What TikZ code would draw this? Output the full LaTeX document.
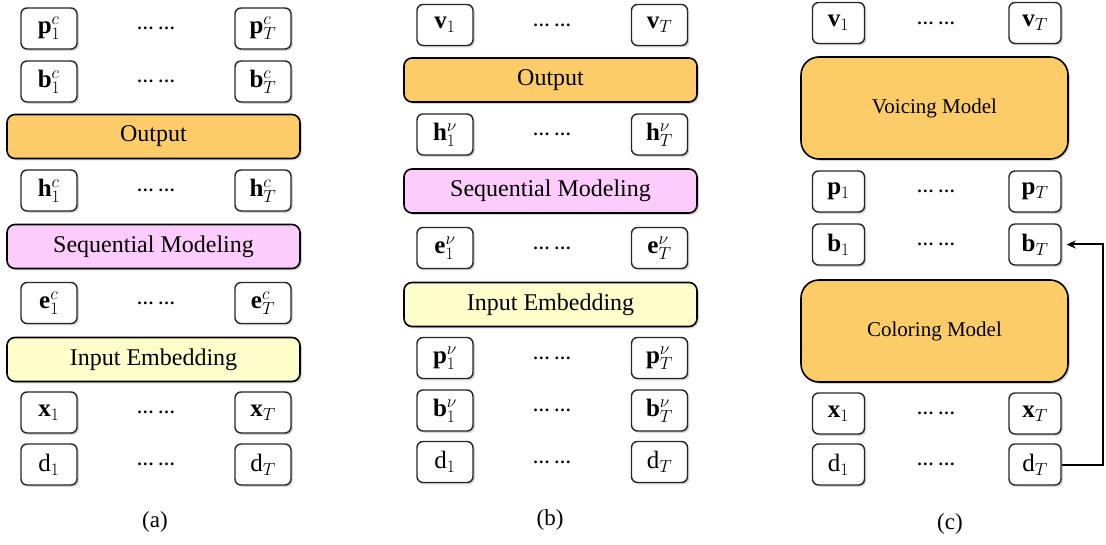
\RequirePackage{fix-cm}
\documentclass[tikz,border=0pt]{standalone}
\usepackage{fontspec}
\setmainfont{Liberation Serif}
\usetikzlibrary{shadows,arrows.meta}
\definecolor{orangefill}{RGB}{252,204,104}
\definecolor{pinkfill}{RGB}{252,204,252}
\definecolor{yellowfill}{RGB}{255,255,204}
\tikzset{
  tok/.style={draw=black!85, line width=1.4pt, fill=white, rounded corners=6pt,
    minimum width=56pt, minimum height=41pt, inner sep=0pt,
    font=\fontsize{25}{28}\selectfont,
    drop shadow={shadow xshift=1.8pt, shadow yshift=-1.8pt, opacity=0.35}},
  tokc/.style={tok, minimum width=52pt},
  bar/.style={draw=black, line width=1.6pt, rounded corners=8pt,
    minimum width=293pt, minimum height=44pt, inner sep=0pt,
    font=\fontsize{24}{28}\selectfont,
    drop shadow={shadow xshift=1.8pt, shadow yshift=-1.8pt, opacity=0.35}},
  model/.style={bar, minimum width=267pt, minimum height=102pt,
    rounded corners=18pt, fill=orangefill, font=\fontsize{21}{25}\selectfont},
  dotsnode/.style={font=\fontsize{17}{20}\selectfont\bfseries, inner sep=0pt},
  capnode/.style={font=\fontsize{23}{27}\selectfont, inner sep=0pt},
  link/.style={line width=2pt, -{Stealth[length=9pt,width=8pt]}}
}
\begin{document}
\begin{tikzpicture}[x=1pt,y=-1pt]
\useasboundingbox (0,0) rectangle (1106,545);
% ---------------- panel (a)
\node[tok] (pa1) at (49,28.5) {$\mathbf{p}_1^{c}$};
\node[dotsnode] (pad) at (156,28.5) {\ldots\ \ldots};
\node[tok] (paT) at (263,28.5) {$\mathbf{p}_T^{c}$};
\node[tok] (ba1) at (49,81.5) {$\mathbf{b}_1^{c}$};
\node[dotsnode] (bad) at (156,81.5) {\ldots\ \ldots};
\node[tok] (baT) at (263,81.5) {$\mathbf{b}_T^{c}$};
\node[bar, fill=orangefill] (outa) at (153.5,136.5) {Output};
\node[tok] (ha1) at (49,190.5) {$\mathbf{h}_1^{c}$};
\node[dotsnode] (had) at (156,190.5) {\ldots\ \ldots};
\node[tok] (haT) at (263,190.5) {$\mathbf{h}_T^{c}$};
\node[bar, fill=pinkfill] (seqa) at (153.5,246.5) {Sequential Modeling};
\node[tok] (ea1) at (49,303) {$\mathbf{e}_1^{c}$};
\node[dotsnode] (ead) at (156,303) {\ldots\ \ldots};
\node[tok] (eaT) at (263,303) {$\mathbf{e}_T^{c}$};
\node[bar, fill=yellowfill] (inpa) at (153.5,359.5) {Input Embedding};
\node[tok] (xa1) at (49,412.5) {$\mathbf{x}_1$};
\node[dotsnode] (xad) at (156,412.5) {\ldots\ \ldots};
\node[tok] (xaT) at (263,412.5) {$\mathbf{x}_T$};
\node[tok] (da1) at (49,464.5) {$\mathrm{d}_1$};
\node[dotsnode] (dad) at (156,464.5) {\ldots\ \ldots};
\node[tok] (daT) at (263,464.5) {$\mathrm{d}_T$};
\node[capnode] (capa) at (155,522) {(a)};
% ---------------- panel (b)
\node[tok] (vb1) at (445,25) {$\mathbf{v}_1$};
\node[dotsnode] (vbd) at (552,25) {\ldots\ \ldots};
\node[tok] (vbT) at (659.5,25) {$\mathbf{v}_T$};
\node[bar, fill=orangefill] (outb) at (550.5,80) {Output};
\node[tok] (hb1) at (445,134.5) {$\mathbf{h}_1^{\nu}$};
\node[dotsnode] (hbd) at (552,134.5) {\ldots\ \ldots};
\node[tok] (hbT) at (659.5,134.5) {$\mathbf{h}_T^{\nu}$};
\node[bar, fill=pinkfill] (seqb) at (550.5,191) {Sequential Modeling};
\node[tok] (eb1) at (445,248) {$\mathbf{e}_1^{\nu}$};
\node[dotsnode] (ebd) at (552,248) {\ldots\ \ldots};
\node[tok] (ebT) at (659.5,248) {$\mathbf{e}_T^{\nu}$};
\node[bar, fill=yellowfill] (inpb) at (550.5,304.5) {Input Embedding};
\node[tok] (pb1) at (445,358) {$\mathbf{p}_1^{\nu}$};
\node[dotsnode] (pbd) at (552,358) {\ldots\ \ldots};
\node[tok] (pbT) at (659.5,358) {$\mathbf{p}_T^{\nu}$};
\node[tok] (bb1) at (445,410.5) {$\mathbf{b}_1^{\nu}$};
\node[dotsnode] (bbd) at (552,410.5) {\ldots\ \ldots};
\node[tok] (bbT) at (659.5,410.5) {$\mathbf{b}_T^{\nu}$};
\node[tok] (db1) at (445,462) {$\mathrm{d}_1$};
\node[dotsnode] (dbd) at (552,462) {\ldots\ \ldots};
\node[tok] (dbT) at (659.5,462) {$\mathrm{d}_T$};
\node[capnode] (capb) at (550,520) {(b)};
% ---------------- panel (c)
\node[tokc] (vc1) at (838.5,23) {$\mathbf{v}_1$};
\node[dotsnode] (vcd) at (936,23) {\ldots\ \ldots};
\node[tokc] (vcT) at (1035,23) {$\mathbf{v}_T$};
\node[model] (voice) at (934.5,108) {Voicing Model};
\node[tokc] (pc1) at (838.5,191.5) {$\mathbf{p}_1$};
\node[dotsnode] (pcd) at (936,191.5) {\ldots\ \ldots};
\node[tokc] (pcT) at (1035,191.5) {$\mathbf{p}_T$};
\node[tokc] (bc1) at (838.5,244.5) {$\mathbf{b}_1$};
\node[dotsnode] (bcd) at (936,244.5) {\ldots\ \ldots};
\node[tokc] (bcT) at (1035,244.5) {$\mathbf{b}_T$};
\node[model] (color) at (934.5,331) {Coloring Model};
\node[tokc] (xc1) at (838.5,413.5) {$\mathbf{x}_1$};
\node[dotsnode] (xcd) at (936,413.5) {\ldots\ \ldots};
\node[tokc] (xcT) at (1035,413.5) {$\mathbf{x}_T$};
\node[tokc] (dc1) at (838.5,464.5) {$\mathrm{d}_1$};
\node[dotsnode] (dcd) at (936,464.5) {\ldots\ \ldots};
\node[tokc] (dcT) at (1035,464.5) {$\mathrm{d}_T$};
\node[capnode] (capc) at (950,524) {(c)};
\coordinate (turn) at (1103,464.5);
\draw[link, shorten >=5pt] (dcT.east) -- (turn) |- (bcT.east);
\end{tikzpicture}
\end{document}
